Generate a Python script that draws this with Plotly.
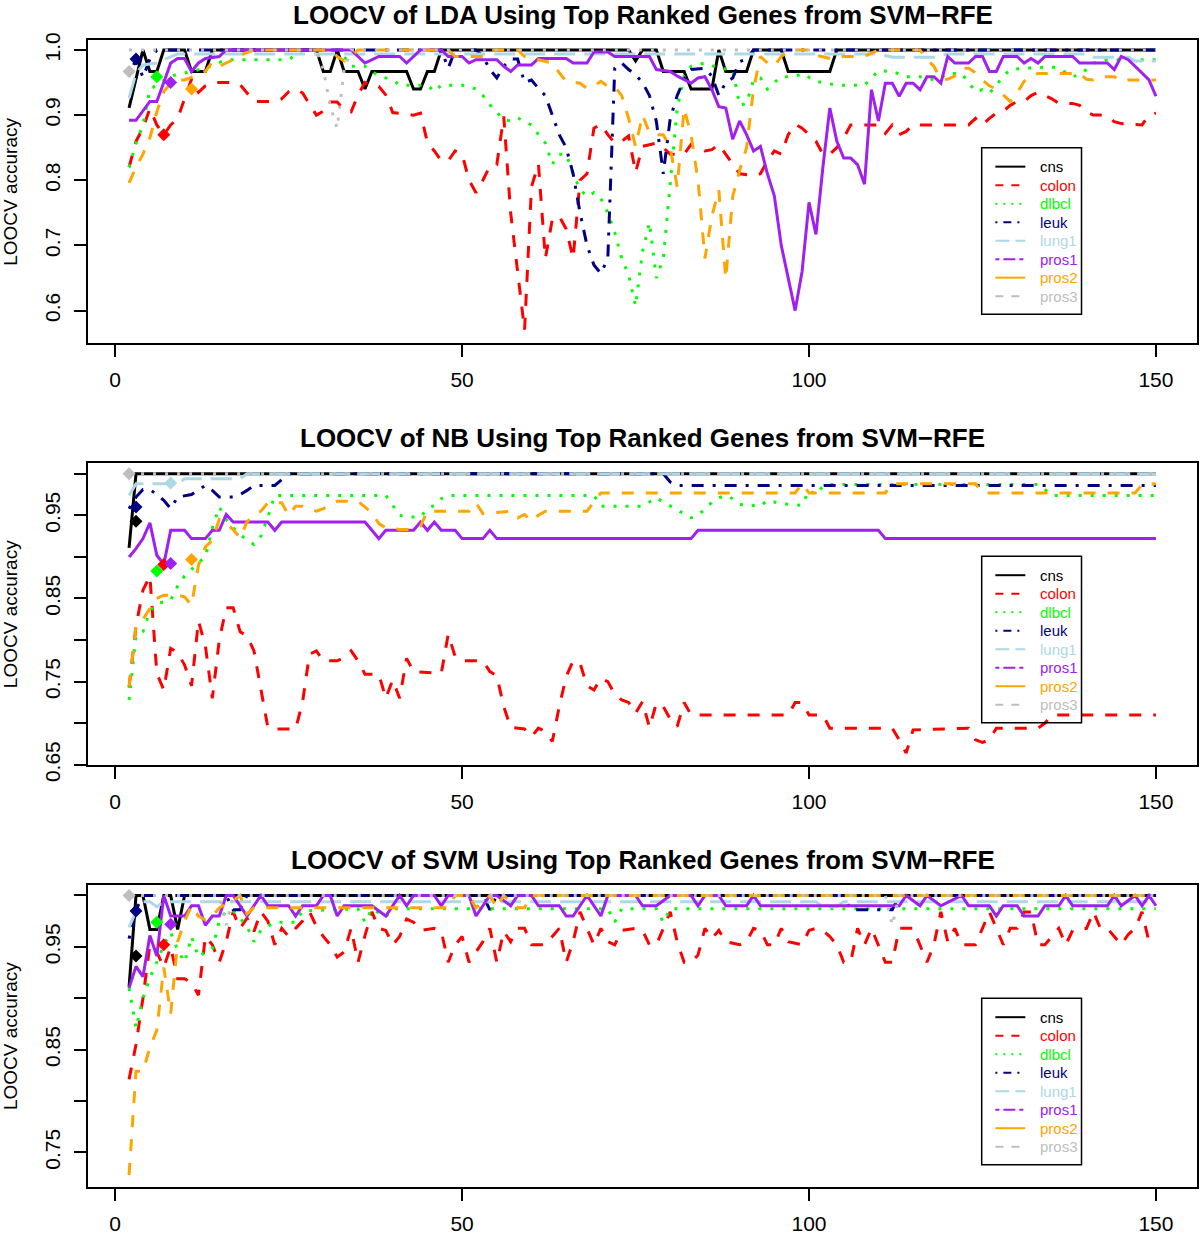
import plotly.graph_objects as go

# ---------------- data (x = number of genes, y = LOOCV accuracy) ----------------
SERIES = ["cns", "colon", "dlbcl", "leuk", "lung1", "pros1", "pros2", "pros3"]
COLORS = ["#000000", "#FF0000", "#00FF00", "#000080", "#ADD8E6", "#A020F0", "#FFA500", "#BEBEBE"]
X_TICKS = [0, 50, 100, 150]

# LDA panel
LDA_CNS = [(2,.911),(4,1),(5,.967),(6,.967),(7,1),(10,1),(11,.967),(13,.967),(14,1),(29,1),(30,.967),(31,.967),(32,1),(33,.967),(35,.967),(36,.94),(37,.967),(42,.967),(43,.94),(44,.94),(45,.967),(46,.967),(47,1),(74,1),(75,.983),(76,1),(78,1),(79,.967),(82,.967),(83,.94),(86,.94),(87,1),(88,.967),(91,.967),(92,1),(96,1),(97,.967),(103,.967),(104,1),(150,1)]
LDA_COLON = [(2,.82),(3,.86),(4,.88),(5,.91),(6,.885),(7,.87),(8,.885),(9,.895),(10,.925),(11,.955),(12,.935),(13,.945),(14,.95),(17,.95),(18,.947),(19,.934),(20,.921),(23,.921),(24,.925),(25,.936),(26,.94),(27,.934),(28,.916),(29,.9),(30,.906),(31,.92),(32,.92),(33,.908),(34,.905),(35,.931),(36,.95),(37,.944),(38,.944),(39,.931),(40,.904),(43,.9),(44,.903),(45,.858),(46,.845),(47,.83),(48,.83),(49,.845),(50,.84),(51,.80),(52,.781),(53,.80),(54,.822),(55,.824),(56,.898),(57,.75),(58,.66),(59,.57),(60,.79),(61,.825),(62,.68),(63,.74),(64,.745),(65,.725),(66,.68),(67,.80),(68,.81),(69,.88),(70,.886),(71,.87),(72,.857),(73,.86),(74,.868),(75,.812),(76,.852),(77,.855),(78,.857),(79,.85),(80,.84),(82,.84),(83,.855),(85,.845),(86,.847),(87,.855),(88,.84),(89,.825),(90,.81),(92,.807),(93,.81),(94,.83),(95,.845),(96,.84),(97,.87),(98,.886),(99,.88),(100,.87),(101,.86),(102,.84),(103,.84),(104,.85),(105,.865),(106,.885),(110,.885),(111,.872),(112,.885),(113,.87),(114,.875),(115,.885),(123,.885),(124,.895),(125,.885),(126,.895),(127,.903),(128,.906),(129,.915),(130,.921),(131,.921),(132,.93),(133,.935),(134,.93),(135,.925),(136,.918),(138,.918),(139,.915),(140,.905),(141,.9),(142,.9),(143,.898),(144,.89),(145,.887),(147,.885),(148,.885),(149,.9),(150,.903)]
LDA_DLBCL = [(2,.82),(3,.857),(4,.885),(5,.94),(6,.946),(8,.96),(13,.972),(16,.985),(25,.985),(27,1),(32,1),(33,.99),(34,.975),(36,.975),(38,.96),(40,.954),(41,.946),(45,.946),(46,.936),(47,.946),(50,.946),(51,.944),(52,.94),(53,.93),(54,.916),(55,.905),(56,.893),(57,.891),(58,.896),(59,.89),(60,.885),(61,.87),(62,.857),(63,.825),(64,.84),(65,.84),(66,.81),(67,.786),(68,.775),(69,.781),(70,.772),(71,.75),(72,.72),(73,.68),(74,.655),(75,.607),(76,.69),(77,.735),(78,.65),(79,.68),(80,.80),(81,.91),(82,.96),(83,.975),(85,.98),(87,.972),(89,.97),(90,.915),(91,.918),(92,.954),(93,.957),(94,.94),(95,.95),(96,.959),(98,.959),(99,.964),(101,.952),(102,.95),(104,.946),(108,.946),(110,.968),(112,.967),(114,.959),(116,.959),(118,.954),(119,.957),(120,.964),(122,.964),(123,.95),(124,.936),(125,.939),(126,.934),(127,.946),(128,.96),(129,.97),(131,.972),(135,.974),(136,.972),(138,.959),(139,.962),(140,.97),(141,.98),(143,.985),(150,.985)]
LDA_LEUK = [(2,.96),(3,.986),(4,.958),(5,.986),(6,1),(47,1),(48,.972),(49,1),(52,1),(53,.99),(54,.97),(55,.957),(56,.975),(57,.986),(58,.986),(59,.95),(60,.954),(61,.941),(62,.93),(63,.9),(64,.87),(65,.85),(66,.81),(67,.75),(68,.70),(69,.67),(70,.657),(71,.68),(72,.972),(73,.98),(74,.97),(75,.962),(76,.95),(77,.93),(78,.89),(79,.81),(80,.895),(81,.93),(82,.955),(83,.97),(85,.972),(86,.96),(87,.93),(88,.95),(89,.957),(90,.982),(91,.986),(92,1),(150,1)]
LDA_LUNG1 = [(2,.926),(3,.964),(4,.977),(6,.98),(7,.985),(9,.994),(110,.994),(112,.989),(118,.989),(120,.994),(140,.994),(141,.989),(146,.989),(147,.983),(150,.983)]
LDA_PROS1 = [(2,.892),(3,.892),(5,.921),(6,.921),(7,.95),(8,.98),(9,.987),(10,.987),(11,.967),(12,.98),(13,.987),(15,.99),(16,1),(34,1),(35,.99),(36,.98),(38,.99),(41,.99),(42,.98),(43,.99),(44,1),(47,1),(48,.99),(50,.99),(51,.98),(52,.985),(55,.985),(56,.975),(57,.967),(58,.977),(60,.977),(61,.987),(65,.987),(66,.98),(68,.98),(69,.997),(71,.997),(72,.99),(77,.99),(78,.97),(80,.967),(81,.96),(83,.949),(84,.957),(85,.959),(86,.939),(87,.913),(88,.911),(89,.863),(90,.891),(91,.87),(92,.845),(93,.852),(94,.81),(95,.776),(96,.70),(97,.65),(98,.60),(99,.66),(100,.766),(101,.717),(102,.82),(103,.911),(104,.86),(105,.834),(106,.834),(107,.824),(108,.794),(109,.939),(110,.891),(111,.949),(112,.949),(113,.929),(114,.949),(115,.949),(116,.939),(117,.959),(118,.959),(119,.949),(120,.99),(121,.98),(123,.98),(124,.99),(125,.99),(126,.967),(127,.967),(128,.99),(130,.99),(131,.98),(132,.987),(133,.98),(134,.99),(138,.99),(139,.98),(143,.98),(144,.97),(145,.99),(146,.985),(147,.975),(148,.965),(149,.954),(150,.929)]
LDA_PROS2 = [(2,.796),(3,.82),(4,.84),(5,.865),(6,.905),(7,.936),(8,.949),(9,.954),(10,.954),(11,.958),(12,.964),(13,.967),(14,.982),(15,.975),(16,.98),(17,.985),(18,.992),(20,1),(31,1),(32,.99),(33,.983),(34,.99),(35,1),(48,1),(49,.99),(53,.99),(54,1),(58,1),(59,.99),(61,.985),(63,.98),(64,.965),(65,.952),(67,.949),(68,.941),(69,.945),(70,.952),(71,.944),(72,.944),(73,.93),(74,.895),(75,.852),(76,.90),(77,.873),(78,.87),(79,.87),(80,.85),(81,.79),(82,.91),(83,.87),(84,.80),(85,.68),(86,.745),(87,.785),(88,.649),(89,.775),(90,.815),(91,.85),(92,.94),(93,.99),(94,.98),(95,.975),(96,.99),(97,.997),(98,1),(100,1),(101,.992),(103,.987),(105,.99),(108,.99),(110,1),(116,1),(117,.985),(118,.975),(119,.955),(120,.955),(121,.96),(122,.972),(123,.972),(124,.965),(125,.954),(126,.945),(127,.94),(128,.931),(129,.921),(130,.934),(131,.952),(132,.959),(133,.964),(139,.964),(140,.955),(141,.954),(142,.959),(144,.959),(145,.952),(146,.954),(150,.954)]
LDA_PROS3 = [(2,1),(29,1),(30,.97),(31,.913),(32,.88),(33,.97),(34,1),(150,1)]

# NB panel
NB_CNS = [(2,.911),(3,1),(150,1)]
NB_COLON = [(2,.743),(3,.817),(4,.86),(5,.877),(6,.76),(7,.74),(8,.79),(9,.785),(10,.77),(11,.745),(12,.823),(13,.793),(14,.73),(15,.80),(16,.839),(17,.839),(18,.81),(19,.805),(20,.787),(21,.74),(22,.695),(23,.693),(26,.693),(27,.725),(28,.783),(29,.787),(30,.775),(32,.775),(33,.779),(34,.787),(35,.775),(36,.759),(38,.759),(39,.73),(40,.752),(41,.73),(42,.778),(43,.762),(47,.76),(48,.807),(49,.78),(50,.775),(53,.775),(54,.762),(55,.757),(56,.72),(57,.695),(59,.693),(60,.684),(61,.694),(62,.69),(63,.678),(64,.72),(65,.756),(66,.775),(67,.772),(68,.745),(69,.74),(70,.754),(71,.75),(72,.735),(73,.728),(74,.725),(75,.712),(76,.726),(77,.695),(78,.724),(79,.72),(80,.705),(81,.696),(82,.725),(83,.71),(97,.71),(98,.725),(99,.725),(100,.71),(102,.71),(103,.694),(112,.694),(113,.68),(114,.664),(115,.692),(123,.694),(124,.68),(125,.677),(126,.68),(127,.694),(133,.694),(134,.70),(135,.71),(150,.71)]
NB_DLBCL = [(2,.728),(3,.805),(4,.81),(5,.835),(6,.844),(8,.848),(9,.865),(10,.877),(12,.893),(13,.90),(14,.935),(15,.96),(16,.945),(17,.935),(18,.927),(19,.92),(20,.915),(21,.925),(22,.948),(23,.974),(39,.974),(40,.962),(41,.95),(42,.948),(44,.948),(45,.958),(46,.962),(47,.97),(48,.974),(69,.974),(70,.961),(76,.961),(77,.966),(78,.971),(79,.966),(80,.961),(81,.957),(82,.952),(83,.947),(84,.951),(85,.957),(86,.966),(87,.971),(88,.974),(89,.97),(90,.963),(93,.961),(94,.968),(95,.966),(96,.964),(99,.962),(100,.98),(101,.975),(102,.985),(103,.987),(133,.987),(134,.981),(135,.974),(150,.974)]
NB_LEUK = [(2,.958),(3,.972),(4,.981),(5,.981),(6,.975),(7,.968),(8,.958),(9,.972),(11,.975),(12,.98),(13,.986),(14,.98),(15,.972),(17,.972),(18,.975),(19,.98),(20,.986),(23,.986),(24,.993),(25,1),(79,1),(80,.99),(81,.986),(150,.986)]
NB_LUNG1 = [(2,.974),(3,.988),(9,.988),(10,.994),(18,.994),(19,1),(150,1)]
NB_PROS1 = [(2,.90),(3,.91),(4,.922),(5,.941),(6,.902),(7,.891),(8,.932),(10,.932),(11,.922),(13,.922),(14,.932),(15,.932),(16,.951),(17,.942),(22,.942),(23,.932),(24,.942),(36,.942),(37,.932),(38,.922),(39,.932),(43,.932),(44,.942),(45,.932),(46,.942),(47,.932),(49,.932),(50,.922),(53,.922),(54,.932),(55,.922),(83,.922),(84,.932),(110,.932),(111,.922),(150,.922)]
NB_PROS2 = [(2,.744),(3,.818),(4,.825),(5,.838),(6,.85),(7,.854),(9,.854),(10,.852),(11,.842),(12,.89),(13,.912),(14,.92),(15,.945),(16,.94),(17,.933),(18,.923),(19,.942),(20,.95),(21,.955),(22,.965),(24,.965),(25,.95),(26,.961),(27,.961),(28,.957),(29,.955),(30,.958),(31,.962),(32,.967),(35,.967),(36,.96),(37,.953),(38,.94),(39,.935),(41,.933),(43,.933),(44,.937),(45,.955),(51,.955),(52,.965),(53,.952),(57,.955),(58,.947),(59,.951),(60,.943),(61,.95),(62,.955),(68,.955),(69,.966),(70,.977),(98,.977),(99,.988),(100,.977),(111,.977),(112,.988),(124,.988),(125,.977),(147,.977),(148,.987),(150,.988)]
NB_PROS3 = [(2,1),(150,1)]

# SVM panel
SVM_CNS = [(2,.911),(3,1),(4,1),(5,.967),(6,.967),(7,1),(8,1),(9,.967),(10,1),(150,1)]
SVM_COLON = [(2,.821),(3,.855),(4,.90),(5,.952),(6,.945),(7,.93),(8,.95),(9,.919),(10,.919),(11,.915),(12,.903),(13,.96),(14,.952),(15,.935),(16,.955),(17,.984),(18,.968),(19,.978),(20,.965),(21,.984),(22,.975),(23,.952),(24,.968),(25,.96),(26,.968),(27,.975),(28,.984),(29,.97),(30,.96),(31,.952),(32,.94),(33,.945),(34,.968),(35,.935),(36,.961),(37,.984),(38,.968),(39,.966),(40,.952),(41,.96),(42,.977),(43,.974),(44,.966),(46,.968),(47,.965),(48,.935),(49,.952),(50,.96),(51,.935),(52,.945),(53,.955),(54,.968),(55,.935),(56,.965),(57,.955),(58,.968),(59,.968),(60,.952),(62,.952),(63,.96),(64,.968),(65,.935),(66,.955),(67,.984),(68,.968),(69,.952),(70,.968),(71,.955),(72,.952),(73,.966),(75,.968),(76,.966),(77,.952),(78,.952),(79,.968),(80,.984),(81,.955),(82,.935),(83,.935),(84,.942),(85,.968),(86,.958),(87,.966),(88,.955),(90,.952),(91,.955),(92,.968),(93,.966),(94,.952),(95,.952),(96,.968),(97,.955),(99,.952),(100,.966),(101,.968),(102,.966),(103,.96),(104,.952),(105,.935),(106,.935),(107,.968),(108,.952),(109,.968),(110,.952),(111,.935),(112,.935),(113,.968),(115,.968),(116,.952),(117,.935),(118,.952),(119,.984),(120,.955),(121,.968),(122,.952),(124,.952),(125,.968),(126,.984),(127,.968),(128,.952),(129,.968),(130,.968),(131,.984),(132,.984),(133,.952),(134,.952),(135,.96),(136,.968),(137,.952),(138,.966),(140,.968),(141,.984),(142,.968),(143,.968),(145,.952),(146,.962),(147,.968),(148,.984),(149,.955),(150,.952)]
SVM_DLBCL = [(2,.91),(3,.871),(4,.90),(5,.92),(6,.935),(7,.952),(8,.964),(9,.947),(10,.935),(11,.96),(12,.94),(13,.945),(14,.948),(15,.975),(16,.985),(17,.985),(18,.978),(19,.97),(20,.955),(21,.966),(22,.97),(23,.974),(26,.974),(27,.985),(35,.987),(36,.974),(37,.987),(39,.979),(40,.987),(71,.987),(72,.974),(73,.987),(78,.987),(79,.974),(80,.987),(150,.987)]
SVM_LEUK = [(2,.958),(3,.986),(4,1),(16,1),(17,.986),(18,.986),(19,1),(53,1),(54,.986),(55,1),(105,1),(106,.986),(112,.986),(113,1),(150,1)]
SVM_LUNG1 = [(2,.969),(3,.985),(4,.994),(5,.994),(6,.989),(7,.994),(101,.994),(102,.989),(104,.989),(105,.994),(150,.994)]
SVM_PROS1 = [(2,.91),(3,.931),(4,.921),(5,.961),(6,.941),(7,1),(8,.98),(10,.98),(11,.99),(12,.99),(13,.971),(14,.98),(15,.98),(16,1),(17,1),(19,.98),(21,1),(22,.99),(25,.99),(26,.98),(27,.99),(29,.99),(30,1),(31,1),(32,.98),(33,.99),(37,.99),(39,.98),(41,1),(42,.99),(43,1),(46,1),(47,.99),(48,1),(51,1),(52,.98),(53,.99),(54,1),(55,1),(57,.99),(58,1),(60,1),(61,.99),(64,.99),(65,.98),(66,.98),(68,1),(70,.98),(71,1),(75,1),(76,.99),(78,.99),(80,1),(83,1),(84,.99),(85,1),(87,1),(88,.99),(91,.99),(92,1),(93,.99),(113,.99),(114,1),(116,.99),(117,1),(119,.99),(122,1),(123,.99),(126,.99),(127,.98),(128,.99),(130,.99),(131,.98),(133,.98),(134,.99),(136,.99),(137,1),(138,.99),(143,.99),(144,1),(145,.99),(147,1),(148,.99),(149,1),(150,.99)]
SVM_PROS2 = [(2,.728),(3,.829),(4,.829),(5,.852),(6,.869),(7,.93),(8,.885),(9,.955),(10,.975),(11,.99),(12,.98),(13,.976),(14,.98),(15,.988),(16,.992),(17,.995),(18,1),(19,.982),(20,.988),(48,.988),(49,1),(51,1),(52,.988),(54,1),(55,.988),(56,1),(58,.988),(59,.988),(60,1),(150,1)]
SVM_PROS3 = [(2,1),(15,1),(16,.971),(17,1),(111,1),(112,.971),(113,1),(150,1)]

# highlighted points (series index, x, y)
LDA_MARKS = [(7,2,.967),(3,3,.986),(2,6,.959),(1,7,.87),(5,8,.95),(6,11,.94)]
NB_MARKS = [(7,2,1.0),(0,3,.943),(3,3,.96),(4,8,.989),(2,6,.883),(1,7,.891),(5,8,.892),(6,11,.897)]
SVM_MARKS = [(7,2,1.0),(0,3,.941),(3,3,.985),(2,6,.974),(1,7,.952),(5,8,.972)]

TITLES = ["LOOCV of LDA Using Top Ranked Genes from SVM\u2212RFE",
          "LOOCV of NB Using Top Ranked Genes from SVM\u2212RFE",
          "LOOCV of SVM Using Top Ranked Genes from SVM\u2212RFE"]
Y_TICKS = [[0.6, 0.7, 0.8, 0.9, 1.0],
           [0.65, 0.70, 0.75, 0.80, 0.85, 0.90, 0.95, 1.00],
           [0.75, 0.80, 0.85, 0.90, 0.95, 1.00]]
Y_TICKTEXT = [["0.6", "0.7", "0.8", "0.9", "1.0"],
              ["0.65", "", "0.75", "", "0.85", "", "0.95", ""],
              ["0.75", "", "0.85", "", "0.95", ""]]

# ---------------- styling ----------------
W, H = 1200, 1236
ML, MR, MT, MB = 88, 1, 40, 43
FONT = "Liberation Sans, Arial, Helvetica, sans-serif"
DATA_DASH = ["solid", "12px,12px", "3px,9px", "3px,9px,12px,9px", "21px,9px",
             "solid", "12px,12px", "3px,9px"]
LEG_DASH = ["solid", "8px,8px", "2px,6px", "2px,6px,8px,6px", "14px,6px",
            "4px,4px,12px,4px", "solid", "8px,8px"]
PANEL_PX = [(40, 345), (465, 769), (889.3, 1193)]   # top/bottom of each plot box (px)
Y_RANGES = [[0.5496, 1.0153], [0.6495, 1.0132], [0.7163, 1.0103]]
X_RANGE = [-3.92, 155.92]
LEGEND_TOPS = [148.3, 559.0, 1003.3]


def pxx(px):
    return (px - ML) / (W - ML - MR)


def pxy(py):
    return 1 - (py - MT) / (H - MT - MB)


def clamp(v):
    return min(1.0, max(0.0, v))


panels = [
    [LDA_CNS, LDA_COLON, LDA_DLBCL, LDA_LEUK, LDA_LUNG1, LDA_PROS1, LDA_PROS2, LDA_PROS3],
    [NB_CNS, NB_COLON, NB_DLBCL, NB_LEUK, NB_LUNG1, NB_PROS1, NB_PROS2, NB_PROS3],
    [SVM_CNS, SVM_COLON, SVM_DLBCL, SVM_LEUK, SVM_LUNG1, SVM_PROS1, SVM_PROS2, SVM_PROS3],
]
marks = [LDA_MARKS, NB_MARKS, SVM_MARKS]

fig = go.Figure()
shapes, annotations = [], []
layout = dict()

for p in range(3):
    suf = "" if p == 0 else str(p + 1)
    for i, data in enumerate(panels[p]):
        fig.add_trace(go.Scatter(
            x=[d[0] for d in data], y=[d[1] for d in data], mode="lines",
            line=dict(color=COLORS[i], width=3, dash=DATA_DASH[i]),
            xaxis="x" + suf, yaxis="y" + suf, showlegend=False, hoverinfo="skip"))
    mk = marks[p]
    fig.add_trace(go.Scatter(
        x=[m[1] for m in mk], y=[m[2] for m in mk], mode="markers",
        marker=dict(symbol="diamond", size=10, color=[COLORS[m[0]] for m in mk], line=dict(width=0)),
        xaxis="x" + suf, yaxis="y" + suf, showlegend=False, hoverinfo="skip"))

    top, bot = PANEL_PX[p]
    layout["xaxis" + suf] = dict(
        domain=[0, 1], range=X_RANGE, anchor="y" + suf,
        tickvals=X_TICKS, ticktext=[str(t) for t in X_TICKS],
        ticks="outside", ticklen=12, tickwidth=1.5, tickcolor="black",
        showline=True, mirror=True, linecolor="black", linewidth=1.5,
        showgrid=False, zeroline=False, ticklabelstandoff=5,
        tickfont=dict(family=FONT, size=21, color="black"))
    layout["yaxis" + suf] = dict(
        domain=[clamp(pxy(bot)), clamp(pxy(top))], range=Y_RANGES[p], anchor="x" + suf,
        tickvals=Y_TICKS[p], ticktext=Y_TICKTEXT[p], tickangle=-90,
        ticks="outside", ticklen=12, tickwidth=1.5, tickcolor="black",
        showline=True, mirror=True, linecolor="black", linewidth=1.5,
        showgrid=False, zeroline=False, ticklabelstandoff=6,
        tickfont=dict(family=FONT, size=21, color="black"))

    # title and y-axis label
    annotations.append(dict(
        text="<b>" + TITLES[p] + "</b>", x=0.5, y=pxy(top - 25), xref="paper", yref="paper",
        xanchor="center", yanchor="middle", showarrow=False,
        font=dict(family=FONT, size=26, color="black")))
    annotations.append(dict(
        text="LOOCV accuracy", x=pxx(11), y=pxy((top + bot) / 2), xref="paper", yref="paper",
        xanchor="center", yanchor="middle", textangle=-90, showarrow=False,
        font=dict(family=FONT, size=19, color="black")))

    # legend box
    lt = LEGEND_TOPS[p]
    shapes.append(dict(type="rect", xref="paper", yref="paper",
                       x0=pxx(983.3), x1=pxx(1083.3), y0=pxy(lt + 167.4), y1=pxy(lt),
                       line=dict(color="black", width=1.5), fillcolor="rgba(0,0,0,0)"))
    for i, name in enumerate(SERIES):
        yc = lt + 19 + 18.6 * i
        shapes.append(dict(type="line", xref="paper", yref="paper",
                           x0=pxx(997), x1=pxx(1027), y0=pxy(yc), y1=pxy(yc),
                           line=dict(color=COLORS[i], width=2, dash=LEG_DASH[i])))
        annotations.append(dict(
            text=name, x=pxx(1040), y=pxy(yc), xref="paper", yref="paper",
            xanchor="left", yanchor="middle", showarrow=False,
            font=dict(family=FONT, size=15, color=COLORS[i])))

fig.update_layout(
    width=W, height=H, margin=dict(l=ML, r=MR, t=MT, b=MB),
    paper_bgcolor="white", plot_bgcolor="white",
    shapes=shapes, annotations=annotations, showlegend=False,
    font=dict(family=FONT), **layout)

fig.write_html("out.html", config={"displayModeBar": False},
               post_script="document.body.style.margin='0px';document.body.style.overflow='hidden';")
